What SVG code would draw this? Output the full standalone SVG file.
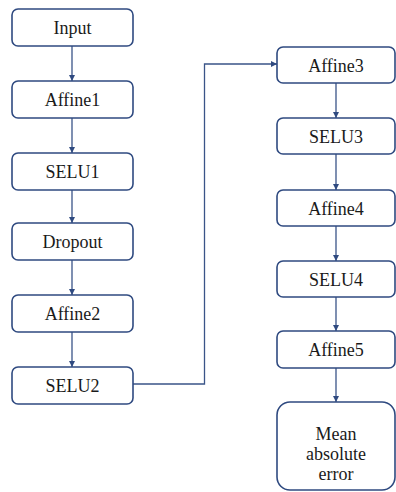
<svg xmlns="http://www.w3.org/2000/svg" width="396" height="492" viewBox="0 0 396 492">
<defs>
<marker id="ah" markerWidth="8" markerHeight="8" refX="6" refY="3" orient="auto" markerUnits="userSpaceOnUse">
<path d="M0,0 L6,3 L0,6 Z" fill="#2F4A80"/>
</marker>
<style>
.box{fill:#fff;stroke:#2F4A80;stroke-width:1.6}
.t{font-family:"Liberation Serif","Times New Roman",serif;font-size:18px;fill:#1a1a1a;text-anchor:middle}
.c{fill:none;stroke:#3A5488;stroke-width:1.3}
</style>
</defs>
<rect width="396" height="492" fill="#fff"/>
<g id="connectors">
<path class="c" d="M72,46 V81" marker-end="url(#ah)"/>
<path class="c" d="M72,118 V153" marker-end="url(#ah)"/>
<path class="c" d="M72,190 V223" marker-end="url(#ah)"/>
<path class="c" d="M72,260 V295" marker-end="url(#ah)"/>
<path class="c" d="M72,332 V367" marker-end="url(#ah)"/>
<path class="c" d="M133,384 H204.5 V64 H277" marker-end="url(#ah)"/>
<path class="c" d="M336,83 V118" marker-end="url(#ah)"/>
<path class="c" d="M336,154 V190" marker-end="url(#ah)"/>
<path class="c" d="M336,226 V261" marker-end="url(#ah)"/>
<path class="c" d="M336,297 V331" marker-end="url(#ah)"/>
<path class="c" d="M336,368 V402" marker-end="url(#ah)"/>
</g>
<g id="input"><rect class="box" x="12" y="9" width="121" height="37" rx="6"/><text class="t" x="72.5" y="34">Input</text></g>
<g id="affine1"><rect class="box" x="12" y="81" width="121" height="37" rx="6"/><text class="t" x="72.5" y="106">Affine1</text></g>
<g id="selu1"><rect class="box" x="12" y="153" width="121" height="37" rx="6"/><text class="t" x="72.5" y="178">SELU1</text></g>
<g id="dropout"><rect class="box" x="12" y="223" width="121" height="37" rx="6"/><text class="t" x="72.5" y="248">Dropout</text></g>
<g id="affine2"><rect class="box" x="12" y="295" width="121" height="37" rx="6"/><text class="t" x="72.5" y="320">Affine2</text></g>
<g id="selu2"><rect class="box" x="12" y="367" width="121" height="37" rx="6"/><text class="t" x="72.5" y="392">SELU2</text></g>
<g id="affine3"><rect class="box" x="277" y="47" width="118" height="36" rx="6"/><text class="t" x="336" y="71.5">Affine3</text></g>
<g id="selu3"><rect class="box" x="277" y="118" width="118" height="36" rx="6"/><text class="t" x="336" y="142.5">SELU3</text></g>
<g id="affine4"><rect class="box" x="277" y="190" width="118" height="36" rx="6"/><text class="t" x="336" y="214.5">Affine4</text></g>
<g id="selu4"><rect class="box" x="277" y="261" width="118" height="36" rx="6"/><text class="t" x="336" y="285.5">SELU4</text></g>
<g id="affine5"><rect class="box" x="277" y="331" width="118" height="37" rx="6"/><text class="t" x="336" y="356">Affine5</text></g>
<g id="mae"><rect class="box" x="277" y="402" width="118" height="88" rx="13"/><text class="t" x="336" y="440">Mean</text><text class="t" x="336" y="460">absolute</text><text class="t" x="336" y="480">error</text></g>
</svg>
